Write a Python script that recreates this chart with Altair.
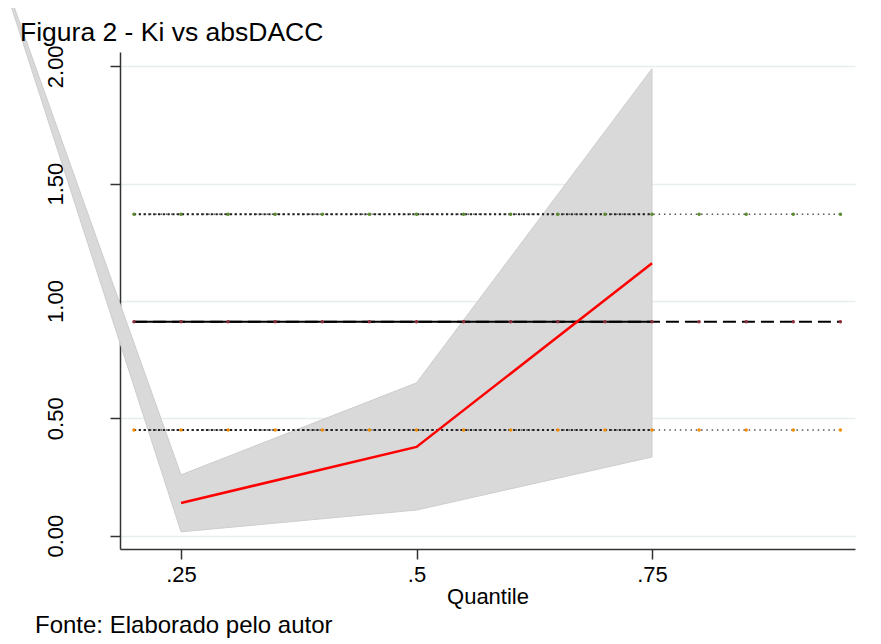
import altair as alt
import pandas as pd

# ---- data ----
quantiles = [0.25, 0.5, 0.75]
coef = [0.139, 0.378, 1.161]

band_q = [0.05, 0.25, 0.5, 0.75]
ci_upper = [2.51, 0.259, 0.651, 1.99]
ci_lower = [2.50, 0.016, 0.109, 0.335]

ols_q = [0.20, 0.25, 0.30, 0.35, 0.40, 0.45, 0.50, 0.55,
         0.60, 0.65, 0.70, 0.75, 0.80, 0.85, 0.90, 0.95]
ols_coef = 0.911
ols_hi = 1.370
ols_lo = 0.450
overlap_end = 0.75

y_ticks = [0.0, 0.5, 1.0, 1.5, 2.0]
x_ticks = [0.25, 0.5, 0.75]

title_text = "Figura 2 - Ki vs absDACC"
footer_text = "Fonte: Elaborado pelo autor"

FONT = "Liberation Sans"
x_dom = [0.1852, 0.9655]
y_dom = [-0.057, 2.061]

band_df = pd.DataFrame({"q": band_q, "lo": ci_lower, "hi": ci_upper})
coef_df = pd.DataFrame({"q": quantiles, "b": coef})

rows = []
for name, val in [("coef", ols_coef), ("hi", ols_hi), ("lo", ols_lo)]:
    for q in ols_q:
        rows.append({"q": q, "v": val, "s": name})
ols_df = pd.DataFrame(rows)
ols_left = ols_df[ols_df["q"] <= overlap_end + 1e-9]

xs = alt.Scale(domain=x_dom, nice=False, zero=False)
ys = alt.Scale(domain=y_dom, nice=False, zero=False)

xax = alt.Axis(values=x_ticks, labelExpr="replace(format(datum.value,'.2~f'),'0.','.')",
               grid=False, tickSize=10, tickWidth=1.5, tickColor="#333333",
               domainColor="#333333", domainWidth=1.5, labelFont=FONT, labelFontSize=22,
               labelColor="black", labelPadding=5, title="Quantile", titleFont=FONT,
               titleFontSize=22, titleFontWeight="normal", titleColor="black", titlePadding=1)
yax = alt.Axis(values=y_ticks, format=".2f", grid=True, gridColor="#e6eef0", gridWidth=1.5,
               tickSize=10, tickWidth=1.5, tickColor="#333333", domainColor="#333333",
               domainWidth=1.5, labelFont=FONT, labelFontSize=22, labelColor="black",
               labelAngle=270, labelAlign="center", labelBaseline="alphabetic",
               labelPadding=48, title=None)


def X(field):
    return alt.X(field, scale=xs, axis=xax)


def Y(field):
    return alt.Y(field, scale=ys, axis=yax)


band = alt.Chart(band_df).mark_area(color="#d9d9d9", stroke="#cdcdcd", strokeWidth=1,
                                    opacity=1).encode(
    x=X("q:Q"), y=Y("lo:Q"), y2="hi:Q",
)

# OLS lines: full range (sparse pattern) + overlap part (denser)
ols_dash = alt.Chart(ols_df[ols_df["s"] == "coef"]).mark_line(
    color="black", strokeWidth=2, strokeDash=[13, 6]).encode(x=X("q:Q"), y=Y("v:Q"))
ols_dash_left = alt.Chart(ols_left[ols_left["s"] == "coef"]).mark_line(
    color="black", strokeWidth=2).encode(x=X("q:Q"), y=Y("v:Q"))
ols_dot = alt.Chart(ols_df[ols_df["s"] != "coef"]).mark_line(
    color="#555555", strokeWidth=1.5, strokeDash=[1.5, 3.8]).encode(
    x=X("q:Q"), y=Y("v:Q"), detail="s:N")
ols_dot_left = alt.Chart(ols_left[ols_left["s"] != "coef"]).mark_line(
    color="#222222", strokeWidth=2, strokeDash=[2.2, 2.6]).encode(
    x=X("q:Q"), y=Y("v:Q"), detail="s:N")
ols_pts = alt.Chart(ols_df).mark_point(filled=True, size=12, opacity=1).encode(
    x=X("q:Q"), y=Y("v:Q"),
    color=alt.Color("s:N", scale=alt.Scale(domain=["coef", "hi", "lo"],
                                           range=["#8c2d3a", "#5a8a2e", "#f08c00"]),
                    legend=None),
)

qline = alt.Chart(coef_df).mark_line(color="#ff0000", strokeWidth=2.5).encode(
    x=X("q:Q"), y=Y("b:Q"))

title = alt.Chart(pd.DataFrame({"t": [title_text]})).mark_text(
    align="left", baseline="alphabetic", font=FONT, fontSize=26.5, color="black").encode(
    x=alt.value(-100), y=alt.value(-11), text="t:N")

footer = alt.Chart(pd.DataFrame({"t": [footer_text]})).mark_text(
    align="left", baseline="alphabetic", font=FONT, fontSize=24, color="black").encode(
    x=alt.value(-85), y=alt.value(581), text="t:N")

chart = alt.layer(band, ols_dot, ols_dot_left, ols_dash, ols_dash_left, ols_pts,
                  qline, title, footer).properties(
    width=735, height=497,
    view=alt.ViewBackground(stroke="transparent", strokeWidth=0, strokeOpacity=0),
    autosize=alt.AutoSizeParams(type="none"),
    padding={"left": 112, "top": 44, "right": 18, "bottom": 90},
).configure(background="white",
            view=alt.ViewConfig(stroke="transparent", strokeWidth=0, strokeOpacity=0),
            style={"cell": {"stroke": "transparent", "strokeWidth": 0}})

chart.save("out.html", embed_options={"renderer": "svg", "actions": False})
